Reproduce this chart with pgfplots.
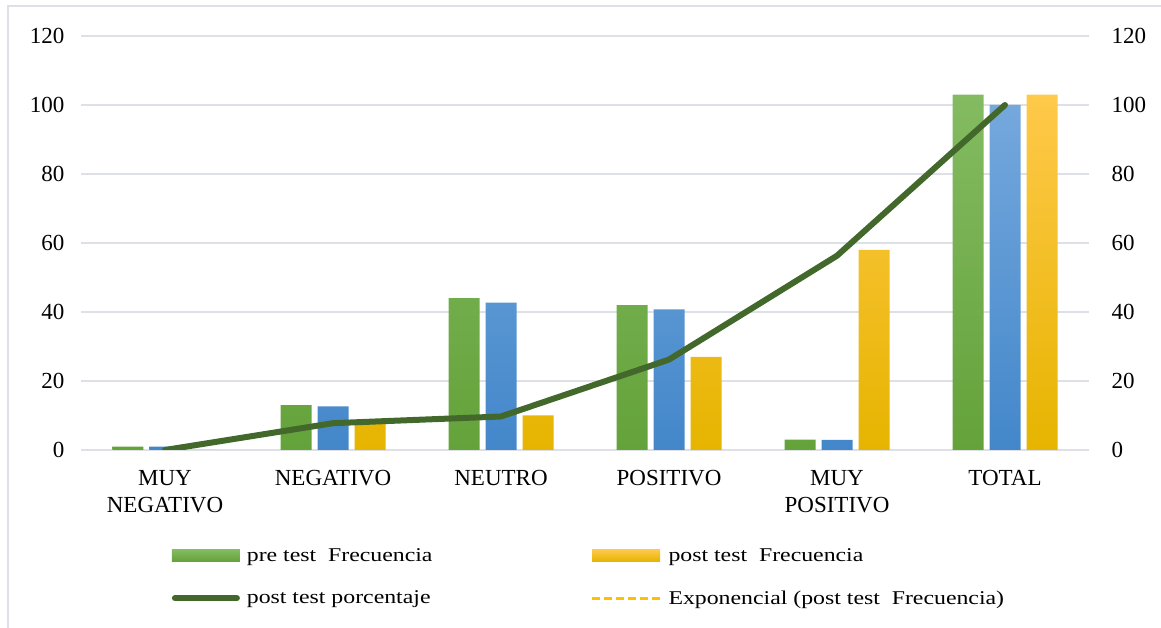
\documentclass[border=0pt]{standalone}
\usepackage{pgfplots}
\pgfplotsset{compat=1.18}
\usepackage{fontspec}
\setmainfont{Liberation Serif}
\newfontfamily\legfamily{Liberation Serif}[FakeStretch=1.22]
\definecolor{gtop}{HTML}{84BB62}
\definecolor{gmid}{HTML}{70AD47}
\definecolor{gbot}{HTML}{64A23A}
\definecolor{btop}{HTML}{75A8DD}
\definecolor{bmid}{HTML}{5B9BD5}
\definecolor{bbot}{HTML}{4387CA}
\definecolor{otop}{HTML}{FFC94A}
\definecolor{omid}{HTML}{FFC000}
\definecolor{obot}{HTML}{E6B400}
\definecolor{linegreen}{HTML}{43682B}
\definecolor{gridc}{HTML}{DDE1E6}
\newcommand{\chfont}{\fontsize{23}{27}\selectfont}
\newcommand{\legfont}{\legfamily\fontsize{19.5}{24}\selectfont}
\begin{document}
\begin{tikzpicture}
\useasboundingbox (-81pt,-178pt) rectangle (1080pt,450pt);
\draw[gridc, line width=1.2pt] (-73pt,-178pt) -- (-73pt,444pt) -- (1080pt,444pt);
\begin{axis}[
  at={(0pt,0pt)}, anchor=south west,
  scale only axis, width=1008pt, height=414pt,
  xmin=-0.5, xmax=5.5, ymin=0, ymax=120,
  ytick={0,20,...,120},
  xtick={0,1,2,3,4,5},
  xticklabels={MUY\\NEGATIVO, NEGATIVO, NEUTRO, POSITIVO, MUY\\POSITIVO, TOTAL},
  xticklabel style={align=center, font=\chfont, yshift=-17pt},
  yticklabel style={font=\chfont, xshift=-13pt},
  /pgf/number format/assume math mode=true,
  major tick length=0pt,
  ymajorgrids, grid style={gridc, line width=1.2pt},
  axis line style={draw=none},
  axis x line*=bottom,
  x axis line style={gridc, line width=1.2pt},
  legend columns=2,
  legend cell align=left,
  legend style={draw=none, fill=none, font=\legfont, at={(0.09,-0.232)}, anchor=north west,
    inner sep=0pt, row sep=24pt, /tikz/column 2/.style={column sep=156pt}},
]
\addplot[ybar, bar width=31pt, bar shift=-37pt, draw=none, top color=gtop, middle color=gmid, bottom color=gbot,
  legend image code/.code={\fill[top color=gtop, bottom color=gbot] (0pt,-6pt) rectangle (68pt,6pt);}]
  coordinates {(0,1) (1,13) (2,44) (3,42) (4,3) (5,103)};
\addlegendentry{\hspace{5pt}pre test\ \ Frecuencia}
\addplot[ybar, bar width=31pt, bar shift=0pt, draw=none, top color=btop, middle color=bmid, bottom color=bbot, forget plot]
  coordinates {(0,0.97) (1,12.62) (2,42.72) (3,40.78) (4,2.91) (5,100)};
\addplot[ybar, bar width=31pt, bar shift=37pt, draw=none, top color=otop, middle color=omid, bottom color=obot,
  legend image code/.code={\fill[top color=otop, bottom color=obot] (0pt,-6pt) rectangle (68pt,6pt);}]
  coordinates {(0,0) (1,8) (2,10) (3,27) (4,58) (5,103)};
\addlegendentry{\hspace{5pt}post test\ \ Frecuencia}
\addplot[sharp plot, mark=none, linegreen, line width=6pt, line cap=round, line join=round,
  legend image code/.code={\draw[linegreen, line width=6pt, line cap=round] (3pt,0pt) -- (65pt,0pt);}]
  coordinates {(0,0) (1,7.77) (2,9.71) (3,26.21) (4,56.31) (5,100)};
\addlegendentry{\hspace{5pt}post test porcentaje}
\addlegendimage{legend image code/.code={\draw[omid, line width=3pt, dash pattern=on 8pt off 4pt] (0pt,0pt) -- (68pt,0pt);}}
\addlegendentry{\hspace{5pt}Exponencial (post test\ \ Frecuencia)}
\end{axis}
\begin{axis}[
  at={(0pt,0pt)}, anchor=south west,
  scale only axis, width=1008pt, height=414pt,
  xmin=-0.5, xmax=5.5, ymin=0, ymax=120,
  ytick={0,20,...,120}, xtick=\empty,
  yticklabel pos=right,
  yticklabel style={font=\chfont, xshift=19pt},
  /pgf/number format/assume math mode=true,
  major tick length=0pt,
  axis line style={draw=none},
]
\addplot[draw=none, forget plot] coordinates {(0,0)};
\end{axis}
\end{tikzpicture}
\end{document}
